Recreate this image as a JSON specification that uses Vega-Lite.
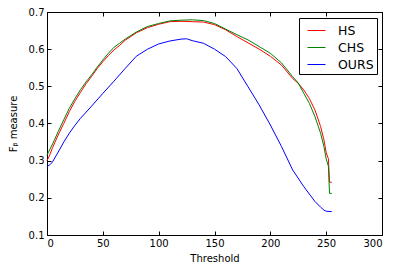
{
  "$schema": "https://vega.github.io/schema/vega-lite/v6.json",
  "autosize": "none",
  "width": 335,
  "height": 223,
  "padding": {"left": 47, "top": 12, "right": 16, "bottom": 36},
  "background": "white",
  "config": {
    "font": "DejaVu Sans",
    "view": {"stroke": "black", "strokeWidth": 1},
    "axis": {
      "domainColor": "black", "tickColor": "black", "grid": false,
      "labelFont": "DejaVu Sans", "labelFontSize": 10, "labelColor": "black",
      "titleFont": "DejaVu Sans", "titleFontSize": 10, "titleFontWeight": "normal", "titleColor": "black",
      "tickSize": -4, "labelPadding": 7
    }
  },
  "data": {"values": [
    {"x":0,"y":0.300,"s":"HS"},{"x":2,"y":0.312,"s":"HS"},{"x":5,"y":0.335,"s":"HS"},{"x":10,"y":0.369,"s":"HS"},{"x":15,"y":0.400,"s":"HS"},{"x":20,"y":0.432,"s":"HS"},{"x":25,"y":0.460,"s":"HS"},{"x":30,"y":0.484,"s":"HS"},{"x":35,"y":0.507,"s":"HS"},{"x":40,"y":0.527,"s":"HS"},{"x":45,"y":0.548,"s":"HS"},{"x":50,"y":0.566,"s":"HS"},{"x":55,"y":0.583,"s":"HS"},{"x":60,"y":0.598,"s":"HS"},{"x":65,"y":0.610,"s":"HS"},{"x":70,"y":0.624,"s":"HS"},{"x":80,"y":0.644,"s":"HS"},{"x":90,"y":0.658,"s":"HS"},{"x":100,"y":0.667,"s":"HS"},{"x":110,"y":0.674,"s":"HS"},{"x":120,"y":0.675,"s":"HS"},{"x":130,"y":0.674,"s":"HS"},{"x":140,"y":0.673,"s":"HS"},{"x":150,"y":0.666,"s":"HS"},{"x":160,"y":0.652,"s":"HS"},{"x":170,"y":0.634,"s":"HS"},{"x":180,"y":0.617,"s":"HS"},{"x":190,"y":0.600,"s":"HS"},{"x":200,"y":0.581,"s":"HS"},{"x":210,"y":0.557,"s":"HS"},{"x":220,"y":0.521,"s":"HS"},{"x":225,"y":0.508,"s":"HS"},{"x":230,"y":0.490,"s":"HS"},{"x":235,"y":0.467,"s":"HS"},{"x":240,"y":0.436,"s":"HS"},{"x":245,"y":0.392,"s":"HS"},{"x":248,"y":0.356,"s":"HS"},{"x":250,"y":0.322,"s":"HS"},{"x":252,"y":0.305,"s":"HS"},{"x":253,"y":0.242,"s":"HS"},{"x":255,"y":0.242,"s":"HS"},
    {"x":0,"y":0.315,"s":"CHS"},{"x":5,"y":0.345,"s":"CHS"},{"x":10,"y":0.378,"s":"CHS"},{"x":15,"y":0.410,"s":"CHS"},{"x":20,"y":0.441,"s":"CHS"},{"x":25,"y":0.467,"s":"CHS"},{"x":30,"y":0.491,"s":"CHS"},{"x":35,"y":0.512,"s":"CHS"},{"x":40,"y":0.531,"s":"CHS"},{"x":45,"y":0.552,"s":"CHS"},{"x":50,"y":0.571,"s":"CHS"},{"x":55,"y":0.589,"s":"CHS"},{"x":60,"y":0.605,"s":"CHS"},{"x":65,"y":0.616,"s":"CHS"},{"x":70,"y":0.627,"s":"CHS"},{"x":80,"y":0.646,"s":"CHS"},{"x":90,"y":0.661,"s":"CHS"},{"x":100,"y":0.669,"s":"CHS"},{"x":110,"y":0.676,"s":"CHS"},{"x":120,"y":0.678,"s":"CHS"},{"x":130,"y":0.679,"s":"CHS"},{"x":140,"y":0.677,"s":"CHS"},{"x":150,"y":0.669,"s":"CHS"},{"x":160,"y":0.654,"s":"CHS"},{"x":170,"y":0.639,"s":"CHS"},{"x":180,"y":0.625,"s":"CHS"},{"x":190,"y":0.607,"s":"CHS"},{"x":200,"y":0.589,"s":"CHS"},{"x":210,"y":0.563,"s":"CHS"},{"x":220,"y":0.526,"s":"CHS"},{"x":225,"y":0.509,"s":"CHS"},{"x":230,"y":0.481,"s":"CHS"},{"x":235,"y":0.454,"s":"CHS"},{"x":240,"y":0.418,"s":"CHS"},{"x":245,"y":0.374,"s":"CHS"},{"x":248,"y":0.338,"s":"CHS"},{"x":250,"y":0.305,"s":"CHS"},{"x":252,"y":0.285,"s":"CHS"},{"x":253,"y":0.212,"s":"CHS"},{"x":255,"y":0.212,"s":"CHS"},
    {"x":0,"y":0.284,"s":"OURS"},{"x":3,"y":0.290,"s":"OURS"},{"x":5,"y":0.297,"s":"OURS"},{"x":10,"y":0.323,"s":"OURS"},{"x":15,"y":0.350,"s":"OURS"},{"x":20,"y":0.374,"s":"OURS"},{"x":25,"y":0.395,"s":"OURS"},{"x":30,"y":0.414,"s":"OURS"},{"x":40,"y":0.447,"s":"OURS"},{"x":50,"y":0.481,"s":"OURS"},{"x":60,"y":0.514,"s":"OURS"},{"x":70,"y":0.548,"s":"OURS"},{"x":80,"y":0.581,"s":"OURS"},{"x":90,"y":0.600,"s":"OURS"},{"x":100,"y":0.614,"s":"OURS"},{"x":110,"y":0.622,"s":"OURS"},{"x":120,"y":0.627,"s":"OURS"},{"x":125,"y":0.628,"s":"OURS"},{"x":130,"y":0.623,"s":"OURS"},{"x":140,"y":0.616,"s":"OURS"},{"x":150,"y":0.600,"s":"OURS"},{"x":160,"y":0.580,"s":"OURS"},{"x":170,"y":0.548,"s":"OURS"},{"x":180,"y":0.499,"s":"OURS"},{"x":190,"y":0.450,"s":"OURS"},{"x":200,"y":0.396,"s":"OURS"},{"x":210,"y":0.338,"s":"OURS"},{"x":220,"y":0.275,"s":"OURS"},{"x":230,"y":0.230,"s":"OURS"},{"x":240,"y":0.190,"s":"OURS"},{"x":245,"y":0.175,"s":"OURS"},{"x":248,"y":0.167,"s":"OURS"},{"x":250,"y":0.164,"s":"OURS"},{"x":255,"y":0.163,"s":"OURS"}
  ]},
  "layer": [
    {
      "mark": {"type": "line", "strokeWidth": 1, "opacity": 0},
      "encoding": {
        "x": {"field": "x", "type": "quantitative", "scale": {"domain": [0, 300]},
              "axis": {"orient": "top", "labels": false, "title": null, "values": [0,50,100,150,200,250,300]}},
        "y": {"field": "y", "type": "quantitative", "scale": {"domain": [0.1, 0.7]},
              "axis": {"orient": "right", "labels": false, "title": null, "values": [0.1,0.2,0.3,0.4,0.5,0.6,0.7]}},
        "detail": {"field": "s"}
      }
    },
    {
      "mark": {"type": "line", "strokeWidth": 1},
      "encoding": {
        "x": {"field": "x", "type": "quantitative", "scale": {"domain": [0, 300]},
              "axis": {"orient": "bottom", "title": "Threshold", "values": [0,50,100,150,200,250,300], "titlePadding": 5}},
        "y": {"field": "y", "type": "quantitative", "scale": {"domain": [0.1, 0.7]},
              "axis": {"orient": "left", "title": "Fᵦ measure", "format": ".1f", "values": [0.1,0.2,0.3,0.4,0.5,0.6,0.7], "titlePadding": 10}},
        "color": {"field": "s", "type": "nominal",
                  "scale": {"domain": ["HS", "CHS", "OURS"], "range": ["#ff0000", "#008000", "#0000ff"]},
                  "legend": {"title": null, "orient": "none", "legendX": 252, "legendY": 6,
                             "symbolType": "stroke", "symbolSize": 324, "symbolStrokeWidth": 1, "symbolOffset": 5,
                             "labelFontSize": 12.5, "labelFont": "DejaVu Sans", "labelColor": "black",
                             "strokeColor": "black", "padding": 3, "rowPadding": 1, "labelOffset": 12,
                             "fillColor": "white", "cornerRadius": 0}}
      }
    }
  ],
  "resolve": {"axis": {"x": "independent", "y": "independent"}}
}
